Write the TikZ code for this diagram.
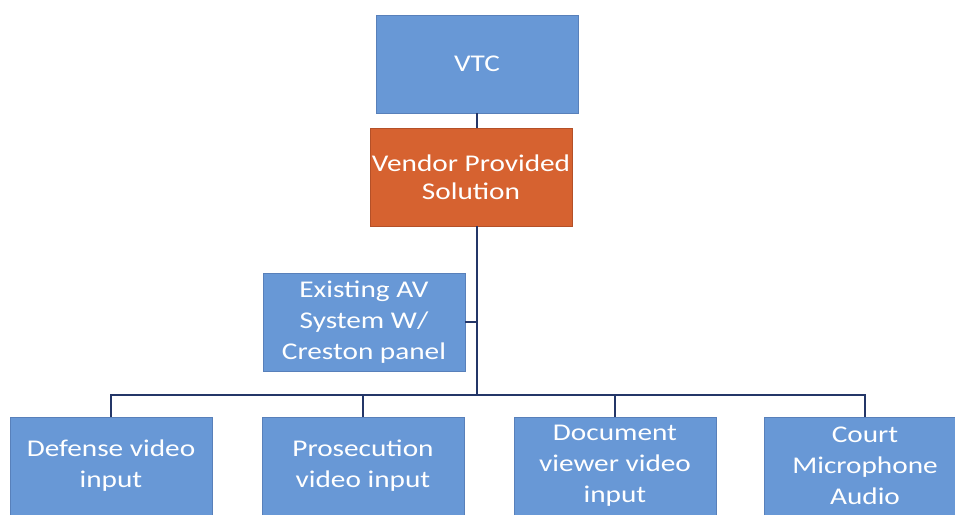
\documentclass[tikz,border=0pt]{standalone}
\usepackage{fontspec}
\setmainfont{Carlito}[FakeStretch=1.22]
\definecolor{boxblue}{RGB}{104,152,214}
\definecolor{boxedge}{RGB}{88,128,186}
\definecolor{vendororange}{RGB}{214,98,48}
\definecolor{vendoredge}{RGB}{180,80,40}
\definecolor{linenavy}{RGB}{36,54,104}
\begin{document}
\begin{tikzpicture}[x=1pt,y=-1pt]
				\tikzset{s/.style={draw=boxedge,fill=boxblue,line width=0.8pt,rectangle,minimum width=202pt,minimum height=98pt,inner sep=0pt,text=white,align=center,font=\fontsize{24}{31}\selectfont},
					o/.style={s,draw=vendoredge,fill=vendororange,font=\fontsize{24}{28}\selectfont},
					l/.style={draw=linenavy,line width=2pt}}
				\useasboundingbox(0,0)rectangle(955,514);
				\clip(0,0)rectangle(955,514);
				\path(477,64)node[s](VTC){VTC}
				(471,177)node[o](VP){Vendor Provided\\Solution}
				(364,322)node[s](AV){Existing AV\\System W/\\Creston panel};
				\path(111,466)node[s](D){Defense video\\input}
				(363,466)node[s](P){Prosecution\\video input}
				(615,466)node[s](V){Document\\viewer video\\input}
				(865,466)node[s](C){Court\\Microphone\\Audio};
				\coordinate(T) at (477,395);
				\draw[l](VTC.south)--(VP.north-|VTC.south);
				\draw[l](VP.south-|VTC.south)--(T);
				\draw[l](AV.east)--(AV.east-|T);
				\foreach \x in {D,P,V,C}
				\draw[l](T)-|(\x.north);
			\end{tikzpicture}
\end{document}
